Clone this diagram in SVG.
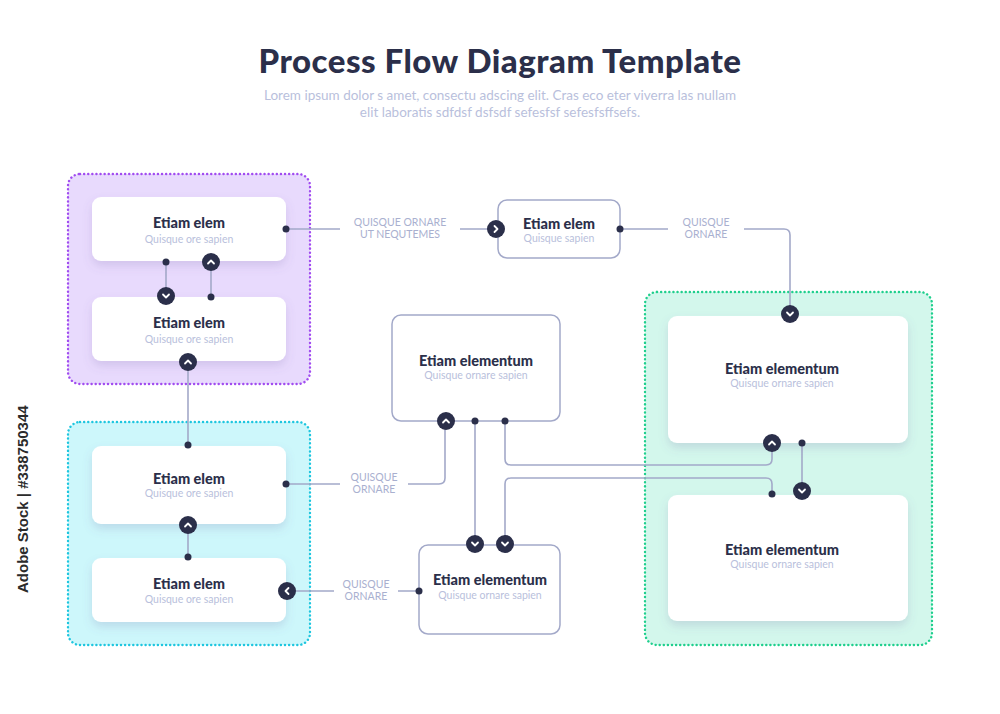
<svg xmlns="http://www.w3.org/2000/svg" width="1000" height="714" viewBox="0 0 1000 714">
<style>
.t{font-family:"Lato","Liberation Sans",sans-serif;font-weight:900;fill:#2b2f4a;text-anchor:middle}
.s{font-family:"Lato","Liberation Sans",sans-serif;fill:#b9bfdc;text-anchor:middle}
.l{font-family:"Lato","Liberation Sans",sans-serif;fill:#a9b0cf;text-anchor:middle;font-size:10.5px}
.card{fill:#fff;filter:url(#sh)}
.ob{fill:#fff;stroke:#a3a9c9;stroke-width:1.5}
.ln{fill:none;stroke:#a3a9c9;stroke-width:1.6}
.dot{fill:#2b2f4a}
.ch{fill:none;stroke:#fff;stroke-width:1.8;stroke-linecap:round;stroke-linejoin:round}
.grp{stroke-width:2.4;stroke-dasharray:0.1 4;stroke-linecap:round}
</style>
<defs>
<filter id="sh" x="-20%" y="-30%" width="140%" height="170%"><feDropShadow dx="0" dy="5" stdDeviation="5" flood-color="#6a5aa0" flood-opacity="0.18"/></filter>
<g id="cd"><circle r="9" class="dot"/><path d="M-3,-1.5 L0,1.5 L3,-1.5" class="ch"/></g>
<g id="cu"><circle r="9" class="dot"/><path d="M-3,1.5 L0,-1.5 L3,1.5" class="ch"/></g>
<g id="cr"><circle r="9" class="dot"/><path d="M-1.5,-3 L1.5,0 L-1.5,3" class="ch"/></g>
<g id="cl"><circle r="9" class="dot"/><path d="M1.5,-3 L-1.5,0 L1.5,3" class="ch"/></g>
</defs>
<rect width="1000" height="714" fill="#fff"/>
<text x="500" y="73" class="t" font-size="33" letter-spacing="0.5">Process Flow Diagram Template</text>
<text x="500" y="100" class="s" font-size="13.5">Lorem ipsum dolor s amet, consectu adscing elit. Cras eco eter viverra las nullam</text>
<text x="500" y="117" class="s" font-size="13.5">elit laboratis sdfdsf dsfsdf sefesfsf sefesfsffsefs.</text>
<text transform="translate(28,593) rotate(-90)" font-family="Liberation Sans,sans-serif" font-size="15" font-weight="700" fill="#2b2b2b">Adobe Stock | #338750344</text>

<g id="groups">
<rect class="grp" x="68" y="174" width="242" height="210" rx="12" fill="#e8dafd" stroke="#a14cf0"/>
<rect class="grp" x="68" y="422" width="242" height="223" rx="12" fill="#cdf7fb" stroke="#1ec6df"/>
<rect class="grp" x="645" y="292" width="287" height="353" rx="12" fill="#d3f7ec" stroke="#1fcf8d"/>
</g>

<g id="connectors">
<path class="ln" d="M286,229 H340 M460,229 H492"/>
<text x="400" y="226" class="l">QUISQUE ORNARE</text><text x="400" y="238" class="l">UT NEQUTEMES</text>
<path class="ln" d="M620,229 H668 M744,229 H784 Q790,229 790,235 V306"/>
<text x="706" y="226" class="l">QUISQUE</text><text x="706" y="238" class="l">ORNARE</text>
<path class="ln" d="M166,262 V290 M211,262 V297 M188,362 V445 M188,525 V557"/>
<path class="ln" d="M286,484 H340 M408,484 H439 Q445,484 445,478 V421"/>
<text x="374" y="481" class="l">QUISQUE</text><text x="374" y="493" class="l">ORNARE</text>
<path class="ln" d="M475,421 V544 M505,421 V459 Q505,465 511,465 H766 Q772,465 772,459 V443 M505,544 V484 Q505,478 511,478 H766 Q772,478 772,484 V494 M802,443 V491"/>
<path class="ln" d="M296,591 H334 M398,591 H419"/>
<text x="366" y="588" class="l">QUISQUE</text><text x="366" y="600" class="l">ORNARE</text>
</g>

<g id="n1"><rect class="card" x="92" y="197" width="194" height="64" rx="9"/><text x="189" y="228" class="t" font-size="14.5">Etiam elem</text><text x="189" y="243" class="s" font-size="10.5">Quisque ore sapien</text></g>
<g id="n2"><rect class="card" x="92" y="297" width="194" height="64" rx="9"/><text x="189" y="328" class="t" font-size="14.5">Etiam elem</text><text x="189" y="343" class="s" font-size="10.5">Quisque ore sapien</text></g>
<g id="n3"><rect class="card" x="92" y="446" width="194" height="78" rx="9"/><text x="189" y="484" class="t" font-size="14.5">Etiam elem</text><text x="189" y="497" class="s" font-size="10.5">Quisque ore sapien</text></g>
<g id="n4"><rect class="card" x="92" y="558" width="194" height="64" rx="9"/><text x="189" y="589" class="t" font-size="14.5">Etiam elem</text><text x="189" y="603" class="s" font-size="10.5">Quisque ore sapien</text></g>
<g id="n5"><rect class="ob" x="498" y="200" width="122" height="58" rx="9"/><text x="559" y="229" class="t" font-size="14.5">Etiam elem</text><text x="559" y="242" class="s" font-size="10.5">Quisque sapien</text></g>
<g id="n6"><rect class="ob" x="392" y="315" width="168" height="106" rx="9"/><text x="476" y="366" class="t" font-size="14.5">Etiam elementum</text><text x="476" y="379" class="s" font-size="10.5">Quisque ornare sapien</text></g>
<g id="n7"><rect class="ob" x="419" y="545" width="141" height="89" rx="9"/><text x="490" y="585" class="t" font-size="14.5">Etiam elementum</text><text x="490" y="599" class="s" font-size="10.5">Quisque ornare sapien</text></g>
<g id="n8"><rect class="card" x="668" y="316" width="240" height="127" rx="9"/><text x="782" y="374" class="t" font-size="14.5">Etiam elementum</text><text x="782" y="387" class="s" font-size="10.5">Quisque ornare sapien</text></g>
<g id="n9"><rect class="card" x="668" y="495" width="240" height="126" rx="9"/><text x="782" y="555" class="t" font-size="14.5">Etiam elementum</text><text x="782" y="568" class="s" font-size="10.5">Quisque ornare sapien</text></g>

<g id="markers">
<circle cx="286" cy="229" r="3.5" class="dot"/><use href="#cr" x="496" y="229"/>
<circle cx="620" cy="229" r="3.5" class="dot"/><use href="#cd" x="790" y="314"/>
<circle cx="166" cy="262" r="3.5" class="dot"/><use href="#cd" x="166" y="296"/>
<use href="#cu" x="211" y="262"/><circle cx="211" cy="297" r="3.5" class="dot"/>
<use href="#cu" x="188" y="362"/><circle cx="188" cy="445" r="3.5" class="dot"/>
<use href="#cu" x="188" y="525"/><circle cx="188" cy="557" r="3.5" class="dot"/>
<circle cx="286" cy="484" r="3.5" class="dot"/><use href="#cu" x="446" y="421"/>
<circle cx="475" cy="421" r="3.5" class="dot"/><circle cx="505" cy="421" r="3.5" class="dot"/>
<use href="#cd" x="475" y="544"/><use href="#cd" x="505" y="544"/>
<use href="#cu" x="772" y="443"/><circle cx="772" cy="494" r="3.5" class="dot"/>
<circle cx="802" cy="443" r="3.5" class="dot"/><use href="#cd" x="802" y="491"/>
<circle cx="419" cy="591" r="3.5" class="dot"/><use href="#cl" x="287" y="591"/>
</g>
</svg>
